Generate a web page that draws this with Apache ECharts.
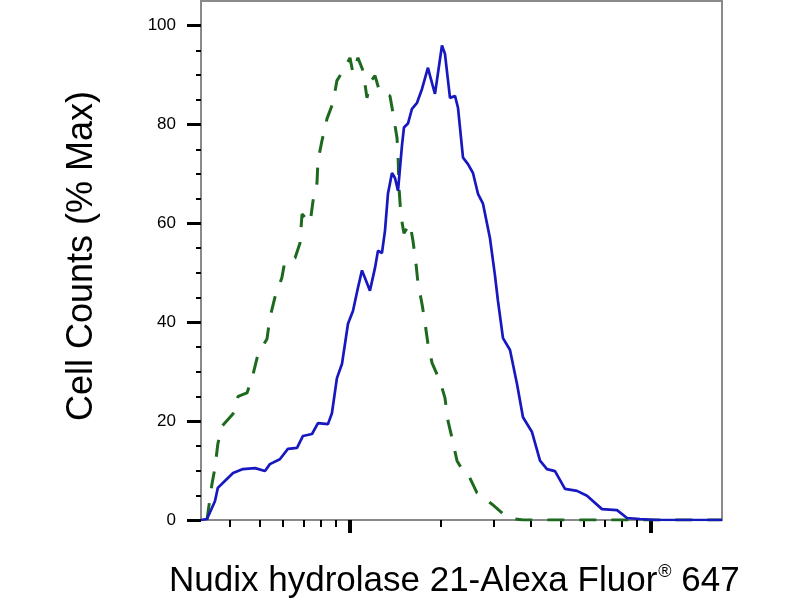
<!DOCTYPE html>
<html>
<head>
<meta charset="utf-8">
<script src="https://cdn.jsdelivr.net/npm/echarts@6/dist/echarts.min.js"></script>
<style>
html,body{margin:0;padding:0;background:#fff;}
#chart{width:800px;height:600px;}
</style>
</head>
<body>
<div id="chart"></div>
<script>
// Blue (stained) histogram: fluorescence intensity, % of max
var blueX = [32.0, 33.5, 35.6, 36.4, 38.4, 40.9, 44.1, 48.4, 52.2, 54.2, 58.5, 62.2, 66.7, 69.8, 74.8, 78.3, 84.5, 87.1, 90.5, 94.1, 98.5, 102.3, 106.3, 109.6, 112.1, 116.5, 121.1, 123.9, 127.7, 130.7, 133.7, 137.9, 141.1, 144.4, 148.8, 151.1, 155.8, 160.7, 167.0, 173.5, 181.6, 184.4, 191.6, 202.1, 206.8, 214.9, 223.3, 228.5, 237.4, 246.6, 256.2, 266.2, 276.6, 291.8, 303.1, 310.2, 322.3, 340.1, 358.8, 375.6, 402.4, 427.8, 451.2, 479.7, 517.9, 567.7, 612.8, 687.3, 770.9, 832.2, 919.2, 1047, 1721];
var blueY = [0, 0.2, 3.8, 6.5, 7.9, 9.5, 10.3, 10.5, 9.9, 11.3, 12.3, 14.4, 14.6, 17, 17.4, 19.6, 19.4, 21.6, 28.7, 31.6, 39.7, 42.3, 47, 50.5, 49, 46.4, 51, 54.5, 54, 58.5, 66, 70.2, 69.2, 66.6, 75.7, 79.4, 80.2, 83.2, 84.4, 87.2, 91.5, 89.9, 86.2, 96, 94.3, 85.4, 85.8, 83.4, 73.3, 72, 70.2, 66, 64, 57, 49.5, 44.3, 36.8, 34.4, 27.5, 20.8, 17.8, 12, 10.3, 9.9, 6.3, 5.9, 4.9, 2.2, 2, 0.4, 0.2, 0, 0];

// Green dashed (control) histogram
var greenX = [33.5, 34.8, 35.6, 36.4, 37.6, 40.9, 42.5, 45.5, 47.3, 49.5, 53.0, 54.2, 56.3, 59.4, 60.8, 65.7, 68.2, 69.3, 73.7, 75.4, 77.7, 78.3, 80.7, 83.9, 87.8, 90.5, 96.3, 100, 102.3, 106.3, 110.5, 113.9, 116.5, 121.1, 125.8, 135.8, 138.9, 143.3, 144.4, 145.5, 147.7, 151.1, 158.2, 161.9, 165.7, 168.2, 173.5, 177.5, 181.6, 187.3, 199.1, 206.8, 211.7, 218.3, 226.7, 237.4, 246.6, 264.2, 296.3, 334.9, 375.6, 1721];
var greenY = [0, 7.3, 10.5, 15.4, 19, 21.5, 25, 25.7, 28.7, 33.6, 36.6, 40.9, 45, 49, 52.4, 53, 56, 61.9, 60.1, 64.6, 68.2, 72.7, 76.7, 81.2, 84.4, 88.9, 91.5, 93.5, 90.5, 93.5, 90.9, 85.4, 88.5, 89.9, 86.4, 85.8, 82.4, 77.3, 74, 67.2, 61.5, 58, 60, 56.5, 51.8, 48, 43.7, 39.9, 35.6, 31.8, 28.1, 24.7, 20, 16.6, 12, 9.9, 9.3, 5.5, 3.2, 0.4, 0, 0];

// Axis ticks
var xMajorTicks = [100, 1000];
var xMinorTicks = [40, 50, 60, 70, 80, 90, 200, 300, 400, 500, 600, 700, 800, 900];
var yMajorTicks = [0, 20, 40, 60, 80, 100];
var yMinorTicks = [5, 10, 15, 25, 30, 35, 45, 50, 55, 65, 70, 75, 85, 90, 95];

var xTitle = 'Nudix hydrolase 21-Alexa Fluor';
var xTitleMark = '®';
var xTitleTail = ' 647';
var yTitle = 'Cell Counts (% Max)';

function zip(a, b) { var o = []; for (var i = 0; i < a.length; i++) o.push([a[i], b[i]]); return o; }

var X_MIN = 32.0, X_MAX = 1721;
var chart = echarts.init(document.getElementById('chart'));
var font = 'Liberation Sans, Arial, sans-serif';

chart.setOption({
  backgroundColor: '#ffffff',
  animation: false,
  grid: { left: 201, top: 1, width: 521, height: 519, show: true, borderColor: '#8a8a8a', borderWidth: 2, backgroundColor: 'transparent' },
  xAxis: [
    { type: 'log', logBase: 10, min: X_MIN, max: X_MAX, position: 'bottom',
      axisLine: { show: true, lineStyle: { color: '#8a8a8a', width: 2 } },
      axisTick: { show: true, customValues: xMinorTicks, length: 7, lineStyle: { color: '#000', width: 2 } },
      axisLabel: { show: false }, splitLine: { show: false }, minorTick: { show: false } },
    { type: 'log', logBase: 10, min: X_MIN, max: X_MAX, position: 'bottom', offset: 0,
      axisLine: { show: false },
      axisTick: { show: true, customValues: xMajorTicks, length: 13, lineStyle: { color: '#000', width: 4 } },
      axisLabel: { show: false }, splitLine: { show: false } }
  ],
  yAxis: [
    { type: 'value', min: 0, max: 105, position: 'left',
      axisLine: { show: true, lineStyle: { color: '#8a8a8a', width: 2 } },
      axisTick: { show: true, customValues: yMajorTicks, length: 14, lineStyle: { color: '#000', width: 3 } },
      axisLabel: { show: true, customValues: yMajorTicks, margin: 25, fontSize: 17, color: '#000', fontFamily: font },
      splitLine: { show: false } },
    { type: 'value', min: 0, max: 105, position: 'left', offset: 0,
      axisLine: { show: false },
      axisTick: { show: true, customValues: yMinorTicks, length: 5, lineStyle: { color: '#000', width: 2 } },
      axisLabel: { show: false }, splitLine: { show: false } }
  ],
  series: [
    { type: 'line', name: 'control', data: zip(greenX, greenY), xAxisIndex: 0, yAxisIndex: 0,
      showSymbol: false, symbol: 'none', smooth: false,
      lineStyle: { color: '#1d6a1f', width: 3, type: [17, 15] }, z: 2 },
    { type: 'line', name: 'stained', data: zip(blueX, blueY), xAxisIndex: 0, yAxisIndex: 0,
      showSymbol: false, symbol: 'none', smooth: false,
      lineStyle: { color: '#1818c0', width: 2.7 }, z: 3 }
  ],
  graphic: [
    { type: 'text', x: 169, y: 581,
      style: { text: '{a|' + xTitle + '}{b|' + xTitleMark + '}{a|' + xTitleTail + '}',
        rich: { a: { fontSize: 35, fontFamily: font, fill: '#000' , verticalAlign: 'bottom'},
                b: { fontSize: 18, fontFamily: font, fill: '#000', verticalAlign: 'top', padding: [0, 0, 0, 1] } },
        verticalAlign: 'middle', align: 'left', fill: '#000' } },
    { type: 'text', x: 82, y: 256, rotation: Math.PI / 2,
      style: { text: yTitle, fontSize: 36, fontFamily: font, fill: '#000', align: 'center', verticalAlign: 'middle' } }
  ]
});
</script>
</body>
</html>
